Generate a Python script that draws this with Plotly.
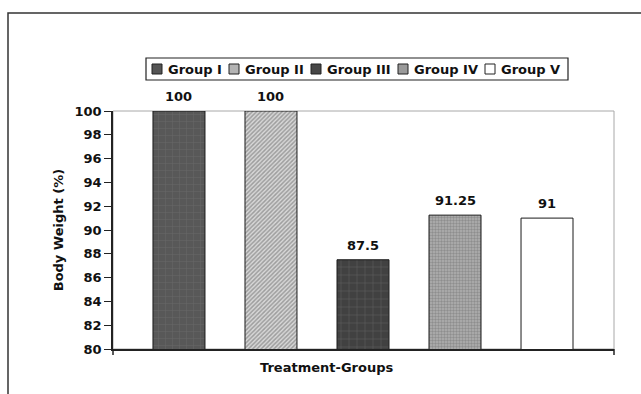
import plotly.graph_objects as go

# Relative body weight per treatment group
groups = ["Group I", "Group II", "Group III", "Group IV", "Group V"]
body_weight = [100, 100, 87.5, 91.25, 91]
value_labels = ["100", "100", "87.5", "91.25", "91"]
y_ticks = list(range(80, 101, 2))

# Fill styles per group (grayscale patterns)
styles = [
    dict(color="#585858", pattern=dict(shape="+", fgcolor="#7c7c7c", bgcolor="#585858", size=7, solidity=0.12)),
    dict(color="#d4d4d4", pattern=dict(shape="/", fgcolor="#626262", bgcolor="#d8d8d8", size=3, solidity=0.5)),
    dict(color="#414141", pattern=dict(shape="+", fgcolor="#8c8c8c", bgcolor="#414141", size=8, solidity=0.1)),
    dict(color="#9c9c9c", pattern=dict(shape=".", fgcolor="#6c6c6c", bgcolor="#b0b0b0", size=3, solidity=0.5)),
    dict(color="#ffffff", pattern=dict(shape="")),
]
# swatch colours used in the key
swatch_colors = ["#555555", "#b4b4b4", "#474747", "#9a9a9a", "#ffffff"]

FONT = "DejaVu Sans, Verdana, sans-serif"
BOLD13 = dict(family=FONT, size=13, color="#111", weight="bold")

# pixel -> paper coordinate helpers for the fixed 641x394 canvas
L, R, T, B = 113, 27, 111, 45
PW, PH = 641 - L - R, 394 - T - B


def px(x):
    return (x - L) / PW


def py(y):
    return (394 - B - y) / PH


fig = go.Figure()
for g, v, st in zip(groups, body_weight, styles):
    fig.add_trace(go.Bar(
        x=[g], y=[v], name=g,
        width=0.565,
        marker=dict(color=st["color"], pattern=st["pattern"],
                    line=dict(color="#1a1a1a", width=1)),
    ))

# value labels above each bar, placed at the bar's own value
for g, v, lab in zip(groups, body_weight, value_labels):
    fig.add_annotation(x=g, y=v, text=lab, xref="x", yref="y",
                       yanchor="bottom", yshift=5, showarrow=False, font=BOLD13)

fig.update_layout(
    width=641, height=394,
    margin=dict(l=L, r=R, t=T, b=B),
    paper_bgcolor="white", plot_bgcolor="white",
    barmode="overlay",
    showlegend=False,
    font=dict(family=FONT, color="#111"),
)

fig.update_xaxes(
    categoryorder="array", categoryarray=groups,
    range=[-0.717, 4.728],
    showticklabels=False, ticks="",
    showline=True, linecolor="#222", linewidth=1.5,
    showgrid=False, zeroline=False,
)
fig.update_yaxes(
    range=[80, 100], tickvals=y_ticks,
    ticks="outside", ticklen=7, tickcolor="#222", tickwidth=1,
    showline=True, linecolor="#222", linewidth=1.5,
    showgrid=False, zeroline=False,
    tickfont=BOLD13,
    title=dict(text="Body Weight (%)", standoff=8, font=BOLD13),
)

# x-axis title, slightly left of plot centre
fig.add_annotation(
    text="Treatment-Groups", xref="paper", yref="paper",
    x=px(326), y=py(367), xanchor="center", yanchor="middle", showarrow=False,
    font=BOLD13,
)

# key box with one swatch + label per group
fig.add_shape(type="rect", xref="paper", yref="paper",
              x0=px(146), x1=px(568), y0=py(80), y1=py(58),
              line=dict(color="#222", width=1.2), fillcolor="white")
swatch_x = [152, 229, 311, 398, 485]
for g, sx, sc in zip(groups, swatch_x, swatch_colors):
    fig.add_shape(type="rect", xref="paper", yref="paper",
                  x0=px(sx), x1=px(sx + 10), y0=py(74), y1=py(64),
                  line=dict(color="#222", width=1), fillcolor=sc)
    fig.add_annotation(text=g, xref="paper", yref="paper",
                       x=px(sx + 14), y=py(69), xanchor="left", yanchor="middle",
                       showarrow=False, font=BOLD13)

# light plot-area border (top and right)
fig.add_shape(type="rect", xref="paper", yref="paper", x0=0, y0=0, x1=1, y1=1,
              line=dict(color="#a8a8a8", width=1), layer="below")
# tick marks at the ends of the category axis
for xp in (0, 1):
    fig.add_shape(type="line", xref="paper", yref="paper", x0=xp, x1=xp,
                  y0=0, y1=-0.025, line=dict(color="#222", width=1.5))
# outer chart frame
fig.add_shape(type="rect", xref="paper", yref="paper",
              x0=px(8), x1=1.2, y0=-0.5, y1=py(13),
              line=dict(color="#333", width=1.5), layer="below")

fig.write_html("out.html")
